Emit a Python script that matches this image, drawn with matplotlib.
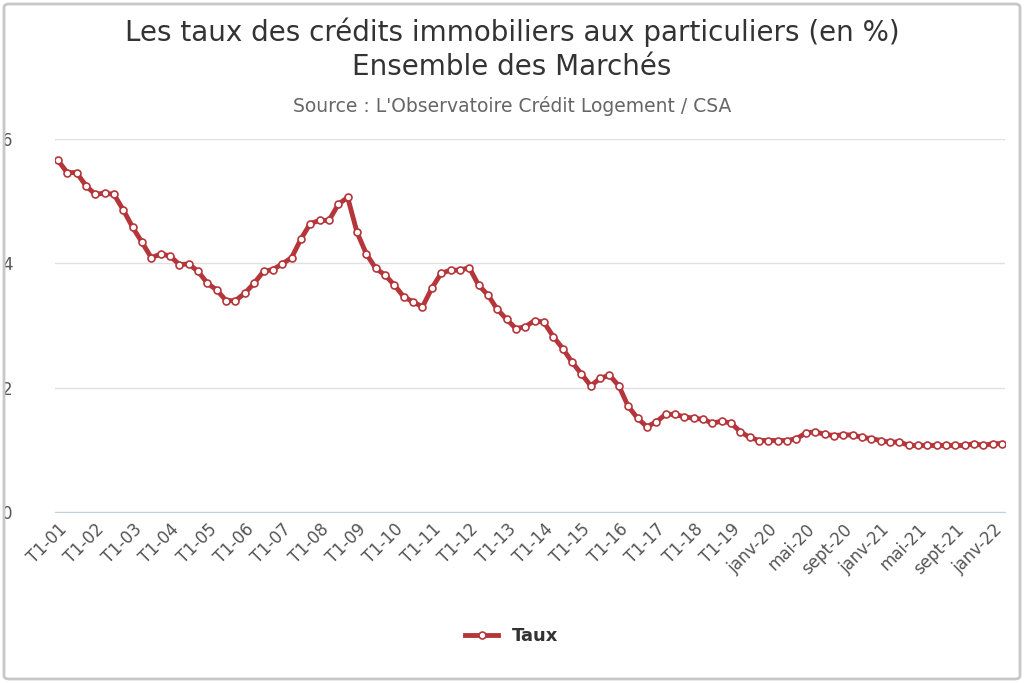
import matplotlib.pyplot as plt
from matplotlib.patches import FancyBboxPatch

plt.rcParams['font.family'] = 'DejaVu Sans'

# quarterly labels 2001-2019, then monthly 2020-févr 2022
years_q = list(range(1, 20))
months = ['janv', 'févr', 'mars', 'avr', 'mai', 'juin', 'juil', 'août', 'sept', 'oct', 'nov', 'déc']
labels = [f'T{q}-{y:02d}' for y in years_q for q in range(1, 5)]
labels += [f'{m}-20' for m in months] + [f'{m}-21' for m in months] + ['janv-22', 'févr-22']

taux = [5.66, 5.46, 5.46, 5.25, 5.11, 5.13, 5.11, 4.86, 4.58, 4.34,
        4.09, 4.15, 4.12, 3.98, 3.99, 3.87, 3.68, 3.57, 3.40, 3.40,
        3.52, 3.68, 3.87, 3.90, 3.99, 4.09, 4.39, 4.64, 4.69, 4.69,
        4.95, 5.06, 4.50, 4.15, 3.92,
        3.81, 3.65, 3.46, 3.38, 3.30, 3.60, 3.84, 3.89, 3.89, 3.93,
        3.65, 3.49, 3.26, 3.10, 2.95, 2.98, 3.08, 3.05, 2.82, 2.63,
        2.41, 2.22, 2.03, 2.15, 2.20, 2.03, 1.70, 1.51, 1.37, 1.45,
        1.57, 1.57, 1.53, 1.51,
        1.49, 1.43, 1.46, 1.43, 1.29, 1.20, 1.15, 1.15, 1.15, 1.15,
        1.18, 1.27, 1.29, 1.25, 1.23, 1.24, 1.24, 1.20, 1.18, 1.15,
        1.12, 1.13, 1.07, 1.07, 1.07, 1.07, 1.07, 1.07, 1.07, 1.10,
        1.07, 1.10, 1.10]

W, H = 1024, 683
fig = plt.figure(figsize=(W / 100, H / 100), dpi=100)
fig.patches.append(FancyBboxPatch((4 / W, 4 / H), 1 - 8 / W, 1 - 8 / H,
                                  boxstyle='round,pad=0,rounding_size=0.005',
                                  transform=fig.transFigure, fill=False,
                                  edgecolor='#c8c8c8', linewidth=2))

ax = fig.add_axes([55 / W, (H - 512) / H, 950 / W, 373 / H])
x = range(len(taux))
ax.plot(x, taux, color='#b5363a', linewidth=3.5, marker='o', markersize=5,
        markerfacecolor='white', markeredgecolor='#b5363a', markeredgewidth=1.2,
        label='Taux')

ax.set_ylim(0, 6)
ax.set_xlim(-0.3, 101.3)
ax.set_yticks([0, 2, 4, 6])
ax.grid(axis='y', color='#e0e0e0', linewidth=1)
ax.set_axisbelow(True)
for s in ['top', 'right', 'left']:
    ax.spines[s].set_visible(False)
ax.spines['bottom'].set_color('#c0d0e0')
ax.tick_params(axis='y', length=0, labelsize=12, colors='#555555', pad=38)
tick_pos = list(range(0, len(labels), 4))
ax.set_xticks(tick_pos)
ax.set_xticklabels([labels[i] for i in tick_pos], rotation=45, ha='right',
                   rotation_mode='anchor', fontsize=12, color='#555555')
ax.tick_params(axis='x', length=0, pad=6)
for t in ax.get_yticklabels():
    t.set_horizontalalignment('left')

fig.text(0.5, 1 - 32 / H, 'Les taux des crédits immobiliers aux particuliers (en %)',
         ha='center', va='center', fontsize=20, color='#333333')
fig.text(0.5, 1 - 67 / H, 'Ensemble des Marchés',
         ha='center', va='center', fontsize=20, color='#333333')
fig.text(0.5, 1 - 106 / H, "Source : L'Observatoire Crédit Logement / CSA",
         ha='center', va='center', fontsize=13.5, color='#666666')

leg = fig.legend(loc='center', bbox_to_anchor=(0.5, 1 - 636 / H), frameon=False,
                 prop={'weight': 'bold', 'size': 13}, handlelength=1.8)
for t in leg.get_texts():
    t.set_color('#333333')

fig.savefig('out.png', dpi=100)
